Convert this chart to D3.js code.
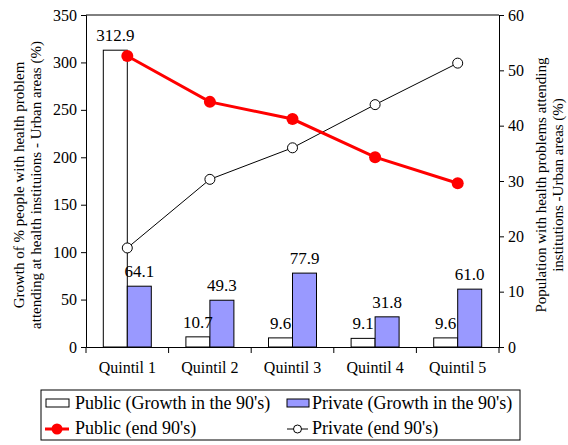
<!DOCTYPE html>
<html>
<head>
<meta charset="utf-8">
<script src="https://cdn.jsdelivr.net/npm/d3@7"></script>
<style>
  body { margin: 0; background: #fff; }
</style>
</head>
<body>
<div id="chart"></div>
<script>
var quintiles = ['Quintil 1', 'Quintil 2', 'Quintil 3', 'Quintil 4', 'Quintil 5'];
var publicGrowth = [312.9, 10.7, 9.6, 9.1, 9.6];
var privateGrowth = [64.1, 49.3, 77.9, 31.8, 61.0];
var publicEnd = [52.6, 44.3, 41.2, 34.3, 29.6];
var privateEnd = [17.9, 30.3, 36.0, 43.8, 51.3];
var leftTicks = [0, 50, 100, 150, 200, 250, 300, 350];
var rightTicks = [0, 10, 20, 30, 40, 50, 60];

var pLeft = 86, pRight = 499, pTop = 15, pBottom = 347;
var serif = 'Liberation Serif';

var svg = d3.select('#chart')
            .append('svg')
            .attr('width', 568)
            .attr('height', 445)
            .attr('font-family', serif);

function label(sel, size) {
    return sel.attr('font-family', serif)
              .style('font-family', serif)
              .style('font-size', size + 'px')
              .attr('fill', '#000');
}

var x = d3.scaleBand()
          .domain(quintiles)
          .range([pLeft, pRight]);

var yL = d3.scaleLinear()
           .domain([0, 350])
           .range([pBottom, pTop]);

var yR = d3.scaleLinear()
           .domain([0, 60])
           .range([pBottom, pTop]);

var barW = 24;
var mid = q => x(q) + x.bandwidth() / 2;

// frame top line
svg.append('line')
   .attr('x1', pLeft).attr('x2', pRight)
   .attr('y1', pTop).attr('y2', pTop)
   .attr('stroke', '#000');

svg.selectAll('.pub-bar')
   .data(publicGrowth)
   .enter()
   .append('rect')
   .attr('class', 'pub-bar')
   .attr('x', (d, i) => mid(quintiles[i]) - barW)
   .attr('y', d => yL(d))
   .attr('width', barW)
   .attr('height', d => pBottom - yL(d))
   .attr('fill', '#fff')
   .attr('stroke', '#000');

svg.selectAll('.priv-bar')
   .data(privateGrowth)
   .enter()
   .append('rect')
   .attr('class', 'priv-bar')
   .attr('x', (d, i) => mid(quintiles[i]))
   .attr('y', d => yL(d))
   .attr('width', barW)
   .attr('height', d => pBottom - yL(d))
   .attr('fill', '#9999ff')
   .attr('stroke', '#000');

label(svg.selectAll('.pub-label')
   .data(publicGrowth)
   .enter()
   .append('text')
   .attr('x', (d, i) => mid(quintiles[i]) - barW / 2)
   .attr('y', d => yL(d) - 9)
   .attr('text-anchor', 'middle'), 17)
   .text(d => d.toFixed(1));

label(svg.selectAll('.priv-label')
   .data(privateGrowth)
   .enter()
   .append('text')
   .attr('x', (d, i) => mid(quintiles[i]) + barW / 2)
   .attr('y', d => yL(d) - 9)
   .attr('text-anchor', 'middle'), 17)
   .text(d => d.toFixed(1));

// axes
var axL = svg.append('g')
             .attr('transform', `translate(${pLeft},0)`)
             .call(d3.axisLeft(yL).tickValues(leftTicks).tickSizeOuter(0).tickSize(5).tickPadding(4));

var axR = svg.append('g')
             .attr('transform', `translate(${pRight},0)`)
             .call(d3.axisRight(yR).tickValues(rightTicks).tickSizeOuter(0).tickSize(5).tickPadding(4));

var axB = svg.append('g')
             .attr('transform', `translate(0,${pBottom})`)
             .call(d3.axisBottom(x).tickSize(0).tickSizeOuter(0).tickPadding(15));

svg.selectAll('.bound-tick')
   .data(d3.range(quintiles.length + 1))
   .enter()
   .append('line')
   .attr('x1', i => pLeft + i * x.step())
   .attr('x2', i => pLeft + i * x.step())
   .attr('y1', pBottom)
   .attr('y2', pBottom + 6)
   .attr('stroke', '#000');

[axL, axR, axB].forEach(a => {
    a.attr('font-family', serif).attr('font-size', 16);
    label(a.selectAll('text'), 16);
    a.selectAll('path, line').attr('stroke', '#000');
});

// lines
var lineGen = d3.line()
                .x((d, i) => mid(quintiles[i]))
                .y(d => yR(d));

svg.append('path')
   .datum(privateEnd)
   .attr('d', lineGen)
   .attr('fill', 'none')
   .attr('stroke', '#000')
   .attr('stroke-width', 1);

svg.selectAll('.priv-pt')
   .data(privateEnd)
   .enter()
   .append('circle')
   .attr('cx', (d, i) => mid(quintiles[i]))
   .attr('cy', d => yR(d))
   .attr('r', 5)
   .attr('fill', '#fff')
   .attr('stroke', '#000');

svg.append('path')
   .datum(publicEnd)
   .attr('d', lineGen)
   .attr('fill', 'none')
   .attr('stroke', '#ff0000')
   .attr('stroke-width', 3);

svg.selectAll('.pub-pt')
   .data(publicEnd)
   .enter()
   .append('circle')
   .attr('cx', (d, i) => mid(quintiles[i]))
   .attr('cy', d => yR(d))
   .attr('r', 6)
   .attr('fill', '#ff0000');

// axis titles
label(svg.append('text')
   .attr('transform', 'translate(24,185) rotate(-90)')
   .attr('text-anchor', 'middle'), 15)
   .text('Growth of  % people with health problem');

label(svg.append('text')
   .attr('transform', 'translate(41,185) rotate(-90)')
   .attr('text-anchor', 'middle'), 15)
   .text('attending at health instituions - Urban areas (%)');

label(svg.append('text')
   .attr('transform', 'translate(546,185) rotate(-90)')
   .attr('text-anchor', 'middle'), 15)
   .text('Population with health problems attending');

label(svg.append('text')
   .attr('transform', 'translate(563,185) rotate(-90)')
   .attr('text-anchor', 'middle'), 15)
   .text('institutions -Urban areas (%)');

// legend
var lg = svg.append('g');
lg.append('rect')
  .attr('x', 41).attr('y', 390)
  .attr('width', 479).attr('height', 50)
  .attr('fill', '#fff')
  .attr('stroke', '#000');

lg.append('rect')
  .attr('x', 46).attr('y', 399).attr('width', 23).attr('height', 8)
  .attr('fill', '#fff').attr('stroke', '#000');
label(lg.append('text').attr('x', 75).attr('y', 409), 18)
  .text("Public (Growth in the 90's)");

lg.append('rect')
  .attr('x', 287).attr('y', 399).attr('width', 22).attr('height', 8)
  .attr('fill', '#9999ff').attr('stroke', '#000');
label(lg.append('text').attr('x', 312).attr('y', 409), 18)
  .text("Private (Growth in the 90's)");

lg.append('line')
  .attr('x1', 45).attr('x2', 69).attr('y1', 429).attr('y2', 429)
  .attr('stroke', '#ff0000').attr('stroke-width', 3);
lg.append('circle').attr('cx', 57).attr('cy', 429).attr('r', 5.5).attr('fill', '#ff0000');
label(lg.append('text').attr('x', 75).attr('y', 434), 18)
  .text("Public (end 90's)");

lg.append('line')
  .attr('x1', 287).attr('x2', 308).attr('y1', 429).attr('y2', 429)
  .attr('stroke', '#000');
lg.append('circle').attr('cx', 297.5).attr('cy', 429).attr('r', 4)
  .attr('fill', '#fff').attr('stroke', '#000');
label(lg.append('text').attr('x', 312).attr('y', 434), 18)
  .text("Private (end 90's)");
</script>
</body>
</html>
